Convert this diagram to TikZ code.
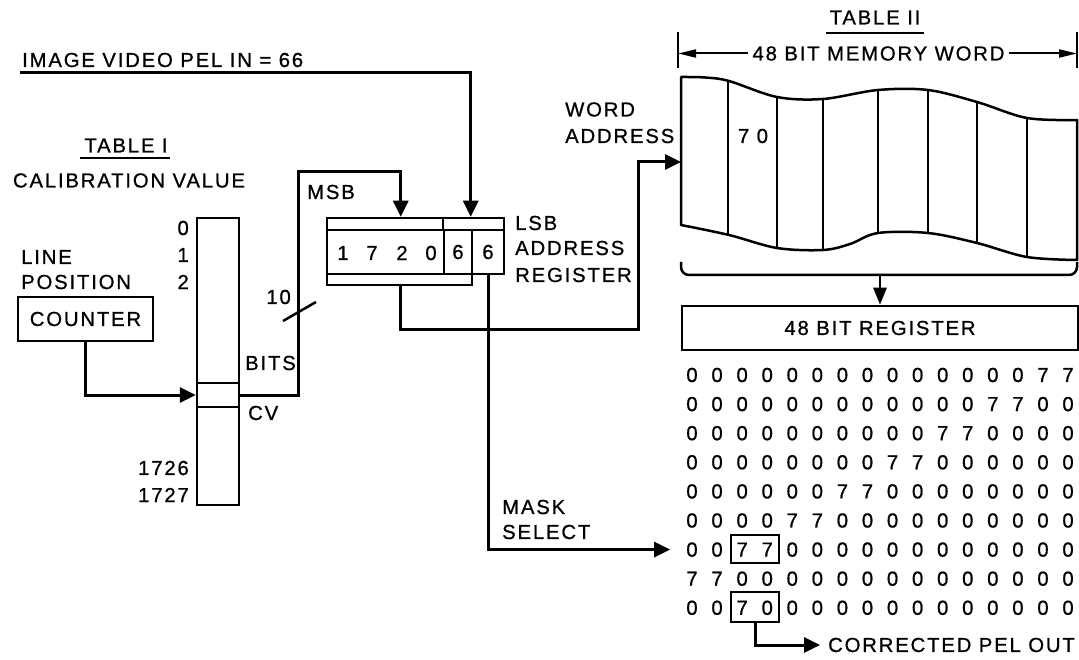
\documentclass[tikz,border=0pt]{standalone}
\usepackage{fontspec}
\setmainfont{Liberation Sans}[LetterSpace=9,FakeBold=0.8]
\usetikzlibrary{arrows.meta,calc}
\begin{document}
\begin{tikzpicture}[x=1pt,y=-1pt,
  lbl/.style={inner sep=0pt, font=\fontsize{20.3}{24}\selectfont},
  boxnode/.style={draw, line width=2.5pt, inner sep=0pt, font=\fontsize{20.3}{24}\selectfont},
  selbox/.style={draw, line width=2pt, inner sep=0pt},
  conn/.style={line width=3pt, -{Triangle[length=16pt,width=15pt]}},
  conntwo/.style={line width=2.5pt, -{Triangle[length=17pt,width=13pt]}},
  plainline/.style={line width=2.5pt},
  dim/.style={line width=2pt, -{Triangle[length=18pt,width=8pt]}},
  outline/.style={line width=2.5pt}]
\useasboundingbox (0,0) rectangle (1079,660);

% ---------- input ----------
\node[lbl,anchor=west] (imgin) at (22,60) {IMAGE VIDEO PEL IN = 66};
\coordinate (vin) at (20,73);

% ---------- Table I ----------
\node[lbl] (t1) at (126,145.5) {TABLE I};
\draw[line width=2pt] ($(t1.south west)+(-4,5.5)$) -- ($(t1.south east)+(2,5.5)$);
\node[lbl] (calv) at (129,180.5) {CALIBRATION VALUE};
\node[boxnode, minimum width=42pt, minimum height=287pt] (tab) at (218,361.5) {};
\node[boxnode, minimum width=42pt, minimum height=24pt] (cv) at (218,395) {};
\node[lbl,anchor=east] (n0) at (189,228) {0};
\node[lbl,anchor=east] (n1) at (189,255) {1};
\node[lbl,anchor=east] (n2) at (189,282) {2};
\node[lbl,anchor=east] (n1726) at (189,468) {1726};
\node[lbl,anchor=east] (n1727) at (189,495) {1727};
\node[lbl,anchor=west] (linel) at (21,257) {LINE};
\node[lbl,anchor=west] (posl) at (21,282) {POSITION};
\node[boxnode, minimum width=135pt, minimum height=44pt] (counter) at (85.5,319) {COUNTER};
\node[lbl,anchor=east] (ten) at (291,297) {10};
\draw[plainline] (283,321) -- (316,302);
\node[lbl,anchor=west] (bits) at (245,363) {BITS};
\node[lbl,anchor=west] (cvl) at (248,413) {CV};
\node[lbl,anchor=west] (msb) at (307,192) {MSB};

% ---------- address register ----------
\node[boxnode, minimum width=177pt, minimum height=12pt] (regtop) at (415.5,224) {};
\draw[plainline] ([xshift=117pt]regtop.north west) -- ([xshift=117pt]regtop.south west);
\node[boxnode, minimum width=117pt, minimum height=44pt] (regA) at (385.5,252) {};
\node[lbl] (d1) at (343,253) {1};
\node[lbl] (d2) at (372,253) {7};
\node[lbl] (d3) at (402,253) {2};
\node[lbl] (d4) at (431,253) {0};
\node[boxnode, minimum width=28pt, minimum height=44pt] (regB) at (458,252) {6};
\node[boxnode, minimum width=32pt, minimum height=44pt] (regC) at (488,252) {6};
\node[boxnode, minimum width=145pt, minimum height=11pt] (regbot) at (399.5,279.5) {};
\node[lbl,anchor=west] (lsb) at (515,223) {LSB};
\node[lbl,anchor=west] (addr) at (515,248) {ADDRESS};
\node[lbl,anchor=west] (regl) at (515,275) {REGISTER};

% ---------- Table II ----------
\node[lbl] (t2) at (875,17.5) {TABLE II};
\draw[line width=2pt] ($(t2.south west)+(-3,8)$) -- ($(t2.south east)+(3,8)$);
\node[lbl, inner xsep=4pt] (mwt) at (878.5,53.5) {48 BIT MEMORY WORD};
\coordinate (dl) at (678,53.5);
\coordinate (dr) at (1077,53.5);
\draw[line width=2pt] (678,32) -- (678,68);
\draw[line width=2pt] (1077,32) -- (1077,68);
\draw[dim] (mwt.west) -- (dl);
\draw[dim] (mwt.east) -- (dr);

\node[lbl,anchor=west] (word) at (565,109.5) {WORD};
\node[lbl,anchor=west] (addrw) at (565,136) {ADDRESS};
\coordinate (mwin) at (681,162);

\newcommand\mwshape{plot[smooth, tension=0.55] coordinates {(681,77) (705,77.5) (729,81) (777,97) (823,99) (878,90) (928,90) (977,102) (1027,118) (1077,120)} -- (1077,260) -- plot[smooth, tension=0.55] coordinates {(1077,260) (1027,257) (977,243) (928,233) (878,233) (850,244) (823,250) (777,248) (729,235) (681,225)} -- cycle}
\begin{scope}
\clip \mwshape;
\foreach \cx in {728,777,823,878,928,977,1027}
  \draw[outline] (\cx,60) -- (\cx,280);
\end{scope}
\draw[outline, line join=round] \mwshape;
\node[lbl] (seventy) at (753,136) {7 0};

\draw[outline, rounded corners=8pt] (681,262) -- (681,275) -- (1077,275) -- (1077,262);
\coordinate (brk) at (880,275);
\node[boxnode, minimum width=396pt, minimum height=44pt] (reg48) at (880,328) {48 BIT REGISTER};
\draw[conntwo] (brk) -- (reg48.north);

% ---------- masks ----------
\foreach \row [count=\r] in {
 {0,0,0,0,0,0,0,0,0,0,0,0,0,0,7,7},
 {0,0,0,0,0,0,0,0,0,0,0,0,7,7,0,0},
 {0,0,0,0,0,0,0,0,0,0,7,7,0,0,0,0},
 {0,0,0,0,0,0,0,0,7,7,0,0,0,0,0,0},
 {0,0,0,0,0,0,7,7,0,0,0,0,0,0,0,0},
 {0,0,0,0,7,7,0,0,0,0,0,0,0,0,0,0},
 {0,0,7,7,0,0,0,0,0,0,0,0,0,0,0,0},
 {7,7,0,0,0,0,0,0,0,0,0,0,0,0,0,0},
 {0,0,7,0,0,0,0,0,0,0,0,0,0,0,0,0}} {
  \foreach \d [count=\c] in \row {
    \node[lbl] (m-\r-\c) at ({692+25.07*(\c-1)},{375+29.1*(\r-1)}) {\d};
  }
}
\node[selbox, minimum width=48pt, minimum height=28pt] (sel1) at (755,549) {};
\node[selbox, minimum width=48pt, minimum height=30pt] (sel2) at (755,607) {};
\node[lbl,anchor=west] (outl) at (828,645) {CORRECTED PEL OUT};
\node[lbl,anchor=west] (mask) at (502,507) {MASK};
\node[lbl,anchor=west] (selt) at (502,532) {SELECT};

% ---------- connectors ----------
\draw[conn] (vin) -| ([xshift=145pt]regtop.north west);
\draw[conn] (counter.south) |- (cv.west);
\draw[conn] (cv.east) -| (298,172) -| ([xshift=75pt]regtop.north west);
\draw[conn] ([xshift=75pt]regbot.south west) |- (638,330) |- (mwin);
\draw[conn] (regC.south) |- ([xshift=-16pt]m-7-1.west);
\draw[conn] (sel2.south) |- ([xshift=-8pt]outl.west);
\end{tikzpicture}
\end{document}
